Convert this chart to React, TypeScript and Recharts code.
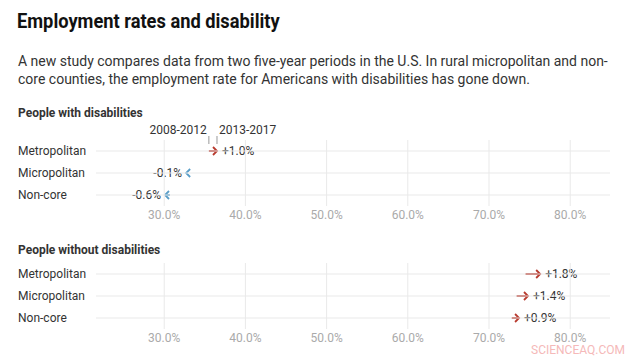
import React from "react";
import { ComposedChart, Bar, XAxis, YAxis, ReferenceLine } from "recharts";

const categories = ["Metropolitan", "Micropolitan", "Non-core"];
const withStart = [35.5, 32.8, 30.7];
const withEnd = [36.5, 32.7, 30.1];
const withoutStart = [74.5, 73.4, 72.8];
const withoutEnd = [76.3, 74.8, 73.7];
const xTicks = [30, 40, 50, 60, 70, 80];
const periodLabels = ["2008-2012", "2013-2017"];

const FONT = "Roboto, 'Noto Sans', sans-serif";
const RED = "#b83a2e";
const BLUE = "#5a9ec8";
const TEXT = "#333";
const GRID = "#e9e9e9";

const build = (starts: number[], ends: number[]) =>
  categories.map((name, i) => ({
    name,
    range: [starts[i], ends[i]],
    change: ends[i] - starts[i],
  }));

const withData = build(withStart, withEnd);
const withoutData = build(withoutStart, withoutEnd);

const fmtChange = (c: number) => (c >= 0 ? "+" : "-") + Math.abs(c).toFixed(1) + "%";

const makeArrow = (showPeriods: boolean) => (props: any) => {
  const { x, y, width, height, payload, index } = props;
  const x0 = x;
  const x1 = x + width;
  const cy = y + height / 2;
  const up = payload.change >= 0;
  const color = up ? RED : BLUE;
  const d = up ? -1 : 1;
  return (
    <g>
      <line x1={x0} y1={cy} x2={x1 + d * 1} y2={cy} stroke={color} strokeWidth={2} />
      <polyline
        points={`${x1 + d * 4},${cy - 4} ${x1},${cy} ${x1 + d * 4},${cy + 4}`}
        fill="none"
        stroke={color}
        strokeWidth={1.8}
      />
      <text
        x={up ? x1 + 5 : x1 - 4}
        y={cy}
        dy="0.35em"
        textAnchor={up ? "start" : "end"}
        fontSize={12}
        fill={TEXT}
        fontFamily={FONT}
      >
        {fmtChange(payload.change)}
      </text>
      {showPeriods && index === 0 && (
        <g>
          <line x1={x0} y1={cy - 15} x2={x0} y2={cy - 7} stroke="#999" strokeWidth={1} />
          <line x1={x1} y1={cy - 15} x2={x1} y2={cy - 7} stroke="#999" strokeWidth={1} />
          <text x={x0 - 2} y={cy - 17} textAnchor="end" fontSize={12} fill={TEXT} fontFamily={FONT}>
            {periodLabels[0]}
          </text>
          <text x={x1 + 2} y={cy - 17} textAnchor="start" fontSize={12} fill={TEXT} fontFamily={FONT}>
            {periodLabels[1]}
          </text>
        </g>
      )}
    </g>
  );
};

const RowTick = (props: any) => {
  const { y, payload } = props;
  return (
    <text x={18} y={y} dy="0.35em" textAnchor="start" fontSize={12} fill={TEXT} fontFamily={FONT}>
      {payload.value}
    </text>
  );
};

const Panel = ({ data, top, showPeriods }: { data: any[]; top: number; showPeriods: boolean }) => (
  <ComposedChart
    width={629}
    height={top + 66 + 24}
    data={data}
    layout="vertical"
    margin={{ top, right: 19, bottom: 4, left: 0 }}
  >
    <XAxis
      type="number"
      domain={[21.6, 84.9]}
      ticks={xTicks}
      allowDataOverflow
      axisLine={false}
      tickLine={false}
      tickSize={0}
      tickMargin={4}
      height={20}
      tick={{ fontSize: 12, fill: "#aaa", fontFamily: FONT }}
      tickFormatter={(v: number) => v.toFixed(1) + "%"}
    />
    <YAxis
      type="category"
      dataKey="name"
      width={96}
      interval={0}
      axisLine={false}
      tickLine={false}
      tick={<RowTick />}
    />
    {xTicks.map((t) => (
      <ReferenceLine key={"v" + t} x={t} stroke={GRID} strokeWidth={1} />
    ))}
    {categories.map((c) => (
      <ReferenceLine key={"h" + c} y={c} stroke={GRID} strokeWidth={1} />
    ))}
    <Bar dataKey="range" barSize={10} isAnimationActive={false} shape={makeArrow(showPeriods)} />
  </ComposedChart>
);

export default function App() {
  return (
    <div
      style={{
        position: "absolute",
        left: 0,
        top: 0,
        width: 629,
        height: 359,
        background: "#fff",
        fontFamily: FONT,
        overflow: "hidden",
      }}
    >
      <div
        style={{
          position: "absolute",
          left: 17,
          top: 9,
          fontSize: 21,
          fontWeight: 700,
          color: "#111",
          whiteSpace: "nowrap",
          transform: "scaleX(0.87)",
          transformOrigin: "left top",
        }}
      >
        Employment rates and disability
      </div>
      <div
        style={{
          position: "absolute",
          left: 18,
          top: 52,
          width: 600,
          fontSize: 14,
          lineHeight: "18px",
          color: TEXT,
        }}
      >
        A new study compares data from two five-year periods in the U.S. In rural micropolitan and non-core
        counties, the employment rate for Americans with disabilities has gone down.
      </div>
      <div style={{ position: "absolute", left: 18, top: 106, fontSize: 12, fontWeight: 700, color: TEXT }}>
        People with disabilities
      </div>
      <div style={{ position: "absolute", left: 0, top: 100 }}>
        <Panel data={withData} top={40} showPeriods={true} />
      </div>
      <div style={{ position: "absolute", left: 18, top: 243, fontSize: 12, fontWeight: 700, color: TEXT }}>
        People without disabilities
      </div>
      <div style={{ position: "absolute", left: 0, top: 240 }}>
        <Panel data={withoutData} top={23} showPeriods={false} />
      </div>
      <div
        style={{
          position: "absolute",
          left: 531,
          top: 343,
          fontSize: 12,
          color: "#f5b9b9",
        }}
      >
        SCIENCEAQ.COM
      </div>
    </div>
  );
}
